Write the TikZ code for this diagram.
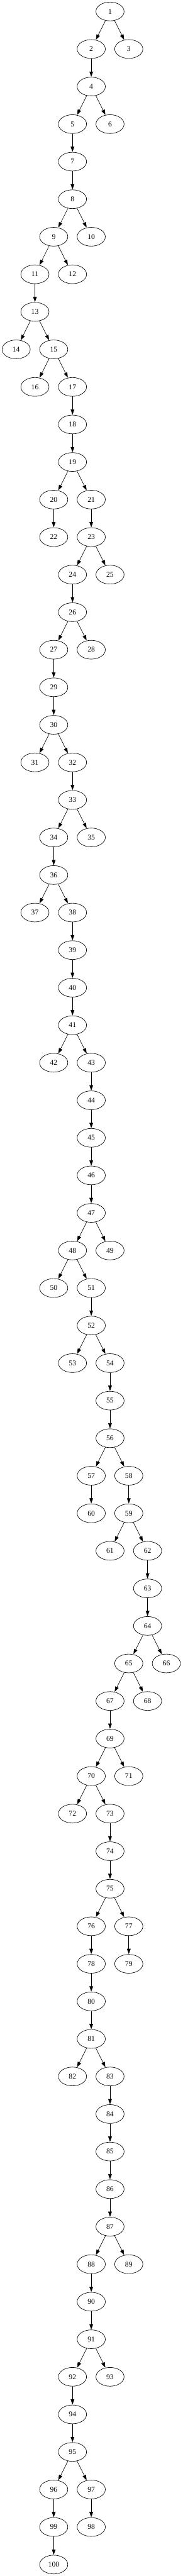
\documentclass[tikz,border=0pt]{standalone}
\usepackage{fontspec}
\setmainfont{Liberation Serif}
\usetikzlibrary{shapes.geometric,arrows.meta}
\tikzset{
  tn/.style={draw=black, ellipse, line width=0.8pt, minimum width=54pt, minimum height=36pt, inner sep=0pt, font=\fontsize{14}{16}\selectfont},
  edge/.style={draw=black, line width=0.8pt, -{Triangle[length=10pt,width=7pt]}, shorten >=0.4pt}
}
\begin{document}
\begin{tikzpicture}[x=1pt,y=1pt]
\useasboundingbox (0,0) rectangle (350,-4940);
\foreach \n/\c/\r in {
1/5/0, 2/4/1, 3/6/1, 4/4/2, 5/3/3, 6/5/3, 7/3/4, 8/3/5, 9/2/6, 10/4/6,
11/1/7, 12/3/7, 13/1/8, 14/0/9, 15/2/9, 16/1/10, 17/3/10, 18/3/11, 19/3/12, 20/2/13,
21/4/13, 22/2/14, 23/4/14, 24/3/15, 25/5/15, 26/3/16, 27/2/17, 28/4/17, 29/2/18, 30/2/19,
31/1/20, 32/3/20, 33/3/21, 34/2/22, 35/4/22, 36/2/23, 37/1/24, 38/3/24, 39/3/25, 40/3/26,
41/3/27, 42/2/28, 43/4/28, 44/4/29, 45/4/30, 46/4/31, 47/4/32, 48/3/33, 49/5/33, 50/2/34,
51/4/34, 52/4/35, 53/3/36, 54/5/36, 55/5/37, 56/5/38, 57/4/39, 58/6/39, 59/6/40, 60/4/40,
61/5/41, 62/7/41, 63/7/42, 64/7/43, 65/6/44, 66/8/44, 67/5/45, 68/7/45, 69/5/46, 70/4/47,
71/6/47, 72/3/48, 73/5/48, 74/5/49, 75/5/50, 76/4/51, 77/6/51, 78/4/52, 79/6/52, 80/4/53,
81/4/54, 82/3/55, 83/5/55, 84/5/56, 85/5/57, 86/5/58, 87/5/59, 88/4/60, 89/6/60, 90/4/61,
91/4/62, 92/3/63, 93/5/63, 94/3/64, 95/3/65, 96/2/66, 97/4/66, 98/4/67, 99/2/67, 100/2/68}
  \node[tn] (n\n) at ({31+36*\c},{-22-72*\r}) {\n};
\foreach \a/\b in {
1/2, 1/3, 2/4, 4/5, 4/6, 5/7, 7/8, 8/9, 8/10, 9/11, 9/12, 11/13, 13/14, 13/15,
15/16, 15/17, 17/18, 18/19, 19/20, 19/21, 20/22, 21/23, 23/24, 23/25, 24/26,
26/27, 26/28, 27/29, 29/30, 30/31, 30/32, 32/33, 33/34, 33/35, 34/36, 36/37, 36/38,
38/39, 39/40, 40/41, 41/42, 41/43, 43/44, 44/45, 45/46, 46/47, 47/48, 47/49,
48/50, 48/51, 51/52, 52/53, 52/54, 54/55, 55/56, 56/57, 56/58, 57/60, 58/59,
59/61, 59/62, 62/63, 63/64, 64/65, 64/66, 65/67, 65/68, 67/69, 69/70, 69/71,
70/72, 70/73, 73/74, 74/75, 75/76, 75/77, 76/78, 77/79, 78/80, 80/81, 81/82, 81/83,
83/84, 84/85, 85/86, 86/87, 87/88, 87/89, 88/90, 90/91, 91/92, 91/93, 92/94,
94/95, 95/96, 95/97, 96/99, 97/98, 99/100}
  \draw[edge] (n\a) -- (n\b);
\end{tikzpicture}
\end{document}
